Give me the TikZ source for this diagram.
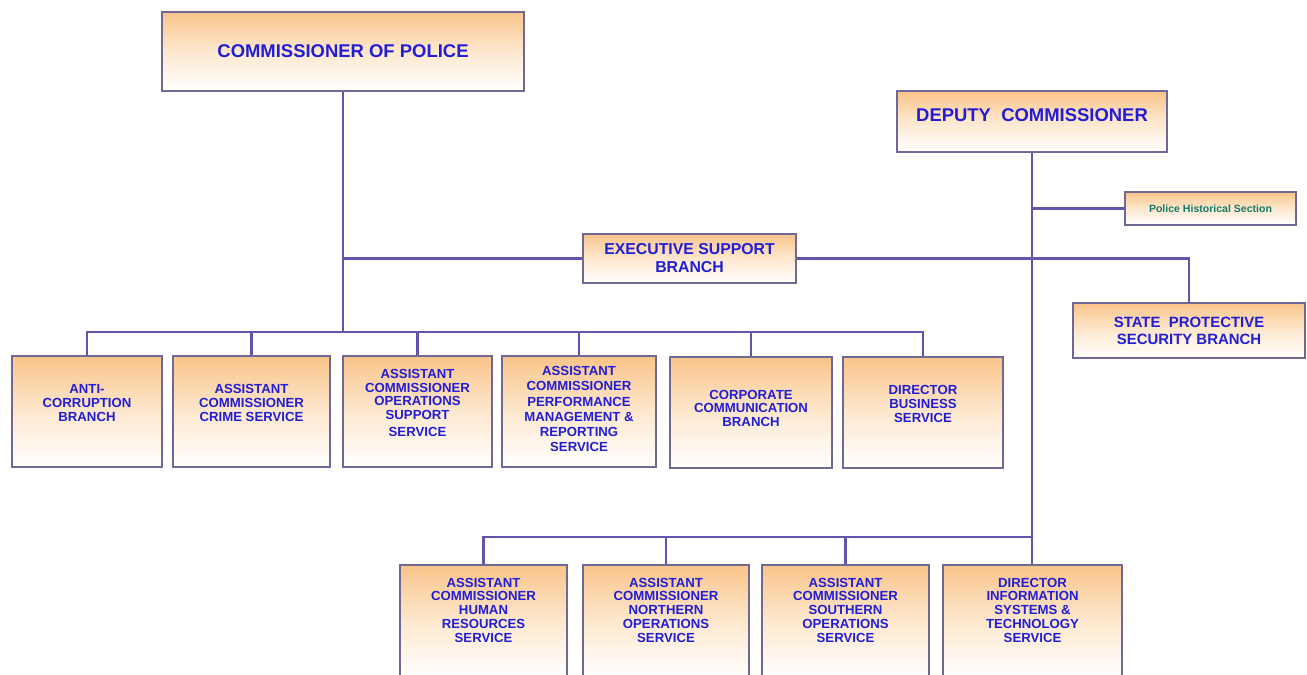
\documentclass[tikz,border=0pt]{standalone}
\usepackage{fontspec}
\setmainfont{Liberation Sans}
\definecolor{boxTop}{RGB}{249,196,138}
\definecolor{boxMid}{RGB}{253,232,206}
\definecolor{boxEdge}{RGB}{112,104,150}
\definecolor{linkColor}{RGB}{96,86,172}
\definecolor{labelBlue}{RGB}{34,30,214}
\definecolor{labelTeal}{RGB}{22,122,104}

\begin{document}
\begin{tikzpicture}[x=0.02cm, y=-0.02cm,
    unit/.style={draw=boxEdge, line width=1pt, top color=boxTop, bottom color=white, middle color=boxMid, text=labelBlue, font=\fontsize{7.5}{7.8}\selectfont\bfseries, align=center, inner sep=0pt},
    head/.style={unit, font=\fontsize{10.5}{12}\selectfont\bfseries},
    rowA/.style={unit, minimum height=2.22cm},
    rowB/.style={unit, minimum height=2.24cm, text depth=12.5pt},
    link/.style={draw=linkColor, line width=1.2pt}
]
    \clip (0,0) rectangle (1307,675);

    % top of the chart
    \node[head, minimum width=7.24cm, minimum height=1.58cm] (cop) at (343,51.5) {COMMISSIONER OF POLICE};
    \node[head, minimum width=5.4cm, minimum height=1.22cm, text depth=7.4pt] (dep) at (1032,121.5) {DEPUTY\ \ COMMISSIONER};
    \node[unit, font=\fontsize{6}{7}\selectfont\bfseries, text=labelTeal, minimum width=3.42cm, minimum height=0.66cm] (hist) at (1210.5,208.5) {Police Historical Section};
    \node[unit, font=\fontsize{9}{10.2}\selectfont\bfseries, minimum width=4.26cm, minimum height=0.98cm] (esb) at (689.5,258.5) {EXECUTIVE SUPPORT\\BRANCH};
    \node[unit, font=\fontsize{8.5}{9.6}\selectfont\bfseries, minimum width=4.64cm, minimum height=1.1cm] (spsb) at (1189,330.5) {STATE\ \ PROTECTIVE\\SECURITY BRANCH};

    % first row
    \node[rowA, minimum width=3cm, text depth=9.6pt] (anti) at (87,411.5) {ANTI-\\CORRUPTION\\BRANCH};
    \node[rowA, minimum width=3.14cm, text depth=9.6pt] (crime) at (251.5,411.5) {ASSISTANT\\COMMISSIONER\\CRIME SERVICE};
    \node[rowA, minimum width=2.98cm, text depth=9.6pt] (ops) at (417.5,411.5) {ASSISTANT\\COMMISSIONER\\OPERATIONS\\SUPPORT\\[2pt]SERVICE};
    \node[rowA, minimum width=3.08cm, text depth=2.8pt, font=\fontsize{7.5}{8.6}\selectfont\bfseries] (perf) at (579,411.5) {ASSISTANT\\COMMISSIONER\\PERFORMANCE\\MANAGEMENT \&\\REPORTING\\SERVICE};
    \node[rowA, minimum width=3.24cm, text depth=5pt] (corp) at (751,412.5) {CORPORATE\\COMMUNICATION\\BRANCH};
    \node[rowA, minimum width=3.2cm, text depth=9.6pt] (dirbus) at (923,412.5) {DIRECTOR\\BUSINESS\\SERVICE};

    % second row
    \node[rowB, minimum width=3.34cm] (hrs) at (483.5,621) {ASSISTANT\\COMMISSIONER\\HUMAN\\RESOURCES\\SERVICE};
    \node[rowB, minimum width=3.32cm] (nops) at (666,621) {ASSISTANT\\COMMISSIONER\\NORTHERN\\OPERATIONS\\SERVICE};
    \node[rowB, minimum width=3.34cm] (sops) at (845.5,621) {ASSISTANT\\COMMISSIONER\\SOUTHERN\\OPERATIONS\\SERVICE};
    \node[rowB, minimum width=3.58cm] (ist) at (1032.5,621) {DIRECTOR\\INFORMATION\\SYSTEMS \&\\TECHNOLOGY\\SERVICE};

    % connectors
    \coordinate (busA) at (343,332);
    \coordinate (busB) at (1032,537);
    \draw[link] (cop) -- (busA);
    \foreach \u in {anti,crime,ops,perf,corp,dirbus}
        \draw[link] (\u.north) |- (busA);
    \draw[link] (esb.west) -- (esb.west -| busA);
    \draw[link] (esb.east) -| (spsb.north);
    \draw[link] (dep.south) -- (dep.south |- ist.north);
    \draw[link] (hist.west) -- (hist.west -| dep.south);
    \foreach \u in {hrs,nops,sops}
        \draw[link] (\u.north) |- (busB);
\end{tikzpicture}
\end{document}
